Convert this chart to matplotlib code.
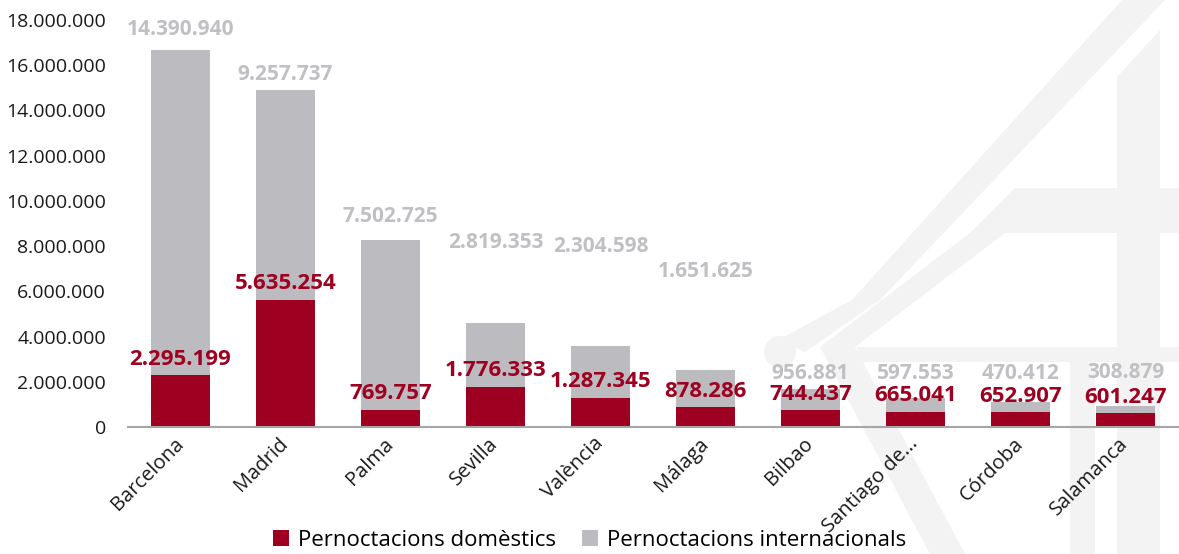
import matplotlib
matplotlib.use("Agg")
import matplotlib.pyplot as plt
from matplotlib.patches import Polygon, Circle
from matplotlib.ticker import FuncFormatter

plt.rcParams['font.family'] = ['Open Sans', 'DejaVu Sans']

# Data
cities = ['Barcelona', 'Madrid', 'Palma', 'Sevilla', 'València', 'Málaga',
          'Bilbao', 'Santiago de...', 'Córdoba', 'Salamanca']
domestic = [2295199, 5635254, 769757, 1776333, 1287345, 878286,
            744437, 665041, 652907, 601247]
international = [14390940, 9257737, 7502725, 2819353, 2304598, 1651625,
                 956881, 597553, 470412, 308879]
yticks = [0, 2000000, 4000000, 6000000, 8000000, 10000000,
          12000000, 14000000, 16000000, 18000000]

# label heights for the international values (as placed in the original)
intl_label_y = [17.60e6, 15.57e6, 9.33e6, 8.14e6, 8.00e6, 6.86e6,
                2.36e6, 2.36e6, 2.36e6, 2.42e6]

red = '#9d0020'
grey = '#bcbcc0'
grey_txt = '#c0c0c4'

W, H = 1179, 554
fig = plt.figure(figsize=(W / 100, H / 100), dpi=100)

# faint watermark logo behind the chart, drawn in pixel coords
bg = fig.add_axes([0, 0, 1, 1], zorder=-1)
bg.set_xlim(0, W)
bg.set_ylim(H, 0)
bg.axis('off')
wm = '#f3f3f3'
shapes = [
    [(1122, 0), (1165, 0), (880, 300), (805, 352), (778, 340), (852, 300)],
    [(1117, 77), (1160, 30), (1160, 554), (1117, 554)],
    [(1015, 188), (1179, 188), (1179, 233), (970, 233)],
    [(970, 233), (1005, 233), (855, 347), (820, 347)],
    [(820, 347), (855, 347), (965, 554), (930, 554)],
    [(857, 347), (1179, 347), (1179, 362), (857, 362)],
    [(1070, 362), (1095, 362), (1095, 554), (1070, 554)],
]
for s in shapes:
    bg.add_patch(Polygon(s, closed=True, facecolor=wm, edgecolor='none'))
bg.add_patch(Circle((780, 352), 16, facecolor=wm, edgecolor='none'))

ax = fig.add_axes([128 / W, 127 / H, 1050 / W, 407 / H])
ax.patch.set_alpha(0)

x = range(len(cities))
ax.bar(x, domestic, width=0.57, color=red, label='Pernoctacions domèstics', zorder=2)
ax.bar(x, international, width=0.57, bottom=domestic, color=grey,
       label='Pernoctacions internacionals', zorder=2)

fmt = lambda v: f'{v:,.0f}'.replace(',', '.')

for i in x:
    ax.annotate(fmt(domestic[i]), (i, domestic[i]), xytext=(0, 11.5),
                textcoords='offset points', ha='center', va='center',
                color=red, fontsize=16, fontweight='bold', zorder=4)
    ax.text(i, intl_label_y[i], fmt(international[i]), ha='center', va='center',
            color=grey_txt, fontsize=15, fontweight='bold', zorder=4)

ax.set_xlim(-0.5, len(cities) - 0.5)
ax.set_ylim(0, 18000000)
ax.set_yticks(yticks)
ax.yaxis.set_major_formatter(FuncFormatter(lambda v, p: fmt(v)))
ax.set_xticks(list(x))
ax.set_xticklabels(cities, rotation=45, ha='right', va='center',
                   rotation_mode='anchor')
ax.tick_params(axis='y', length=0, pad=16, labelsize=14, labelcolor='#1a1a1a')
ax.tick_params(axis='x', length=0, pad=10, labelsize=14.5, labelcolor='#1a1a1a')

for side in ['left', 'right', 'top']:
    ax.spines[side].set_visible(False)
ax.spines['bottom'].set_color('#a6a6a6')
ax.spines['bottom'].set_linewidth(1.5)

fig.legend(loc='center', bbox_to_anchor=(0.5, 0.025), ncol=2, frameon=False,
           fontsize=16, handlelength=0.7, handleheight=0.7, handletextpad=0.4,
           columnspacing=1.2, borderpad=0)

fig.savefig('out.png', dpi=100)
